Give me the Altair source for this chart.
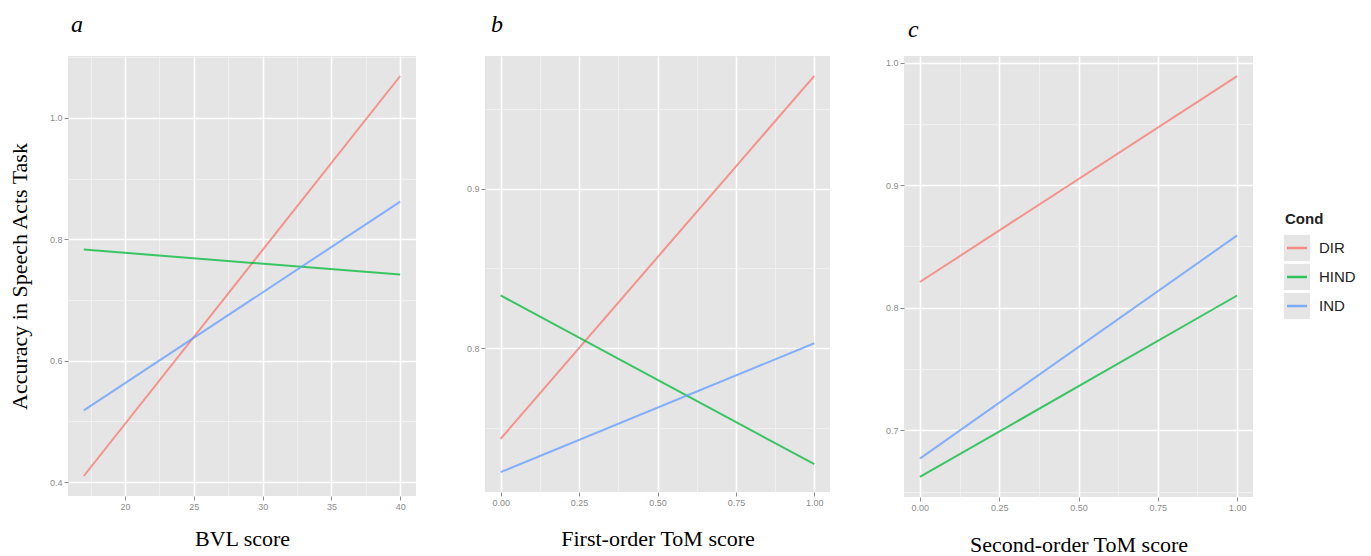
import json
import altair as alt
import pandas as pd

# ---------------- data ----------------
conds = ["DIR", "HIND", "IND"]
cond_colors = ["#F8766D", "#00BA38", "#619CFF"]
legend_title = "Cond"

# panel a : BVL score
a_x = [17, 40]
a_dir = [0.410, 1.069]
a_hind = [0.783, 0.742]
a_ind = [0.518, 0.862]
a_x_major = [20, 25, 30, 35, 40]
a_x_minor = [17.5, 22.5, 27.5, 32.5, 37.5]
a_y_major = [0.4, 0.6, 0.8, 1.0]
a_y_minor = [0.5, 0.7, 0.9, 1.1]

# panel b : First-order ToM score
b_x = [0, 1]
b_dir = [0.743, 0.971]
b_hind = [0.833, 0.727]
b_ind = [0.722, 0.803]
b_x_major = [0.0, 0.25, 0.5, 0.75, 1.0]
b_x_minor = [0.125, 0.375, 0.625, 0.875]
b_y_major = [0.8, 0.9]
b_y_minor = [0.75, 0.85, 0.95]

# panel c : Second-order ToM score
c_x = [0, 1]
c_dir = [0.821, 0.989]
c_hind = [0.662, 0.810]
c_ind = [0.677, 0.859]
c_x_major = [0.0, 0.25, 0.5, 0.75, 1.0]
c_x_minor = [0.125, 0.375, 0.625, 0.875]
c_y_major = [0.7, 0.8, 0.9, 1.0]
c_y_minor = [0.65, 0.75, 0.85, 0.95]

y_title = "Accuracy in Speech Acts Task"
x_titles = ["BVL score", "First-order ToM score", "Second-order ToM score"]
letters = ["a", "b", "c"]

SERIF = "Liberation Serif"
SANS = "Liberation Sans"
TICK_GREY = "#8c8c8c"
PANEL_BG = "#E5E5E5"


def long_df(xs, d, h, i):
    rows = []
    for name, ys in zip(conds, [d, h, i]):
        for xv, yv in zip(xs, ys):
            rows.append({"x": xv, "y": yv, "Cond": name})
    return pd.DataFrame(rows)


def expand(vals, f=0.05):
    lo, hi = min(vals), max(vals)
    d = (hi - lo) * f
    return [lo - d, hi + d]


def make_axis(major, minor, fmt, title, title_font_size, title_padding, **kw):
    minor_test = f"indexof({json.dumps(major)}, datum.value) < 0"
    return alt.Axis(
        values=sorted(major + minor),
        format=fmt,
        labelExpr=f"{minor_test} ? '' : datum.label",
        gridColor={"condition": {"test": minor_test, "value": "#F2F2F2"}, "value": "#FFFFFF"},
        gridWidth={"condition": {"test": minor_test, "value": 0.8}, "value": 1.6},
        tickOpacity={"condition": {"test": minor_test, "value": 0}, "value": 1},
        tickColor=TICK_GREY,
        tickSize=4,
        labelColor=TICK_GREY,
        labelFont=SANS,
        labelFontSize=9,
        labelPadding=2,
        domain=False,
        title=title,
        titleFont=SERIF,
        titleFontSize=title_font_size,
        titleFontWeight="normal",
        titleColor="#000000",
        titlePadding=title_padding,
        minExtent=0,
        **kw,
    )


def panel(xs, d, h, i, xmaj, xmin, ymaj, ymin, xfmt, yfmt, letter, xtitle,
          ytitle, ytfs, ytpad, xtpad, w, hgt, toff, tdx):
    df = long_df(xs, d, h, i)
    xdom = expand(xs)
    ydom = expand(d + h + i)
    return alt.Chart(df).mark_line(strokeWidth=2, opacity=0.75, clip=True).encode(
        x=alt.X("x:Q", scale=alt.Scale(domain=xdom, nice=False, zero=False),
                axis=make_axis(xmaj, xmin, xfmt, xtitle, 22, xtpad)),
        y=alt.Y("y:Q", scale=alt.Scale(domain=ydom, nice=False, zero=False),
                axis=make_axis(ymaj, ymin, yfmt, ytitle, ytfs, ytpad)),
        color=alt.Color("Cond:N", scale=alt.Scale(domain=conds, range=cond_colors), legend=None),
    ).properties(
        width=w,
        height=hgt,
        view=alt.ViewBackground(fill=PANEL_BG, strokeWidth=0),
        title=alt.TitleParams(text=letter, anchor="start", frame="group", font=SERIF,
                              fontStyle="italic", fontWeight="normal", fontSize=24,
                              color="#000000", offset=toff, dx=tdx),
    )


pa = panel(a_x, a_dir, a_hind, a_ind, a_x_major, a_x_minor, a_y_major, a_y_minor,
           "d", ".1f", letters[0], x_titles[0], y_title, 22, 18, 17, 348, 440, 19, 3)
pb = panel(b_x, b_dir, b_hind, b_ind, b_x_major, b_x_minor, b_y_major, b_y_minor,
           ".2f", ".1f", letters[1], x_titles[1], " ", 10, 10, 21, 345, 436, 19, 6)
pc = panel(c_x, c_dir, c_hind, c_ind, c_x_major, c_x_minor, c_y_major, c_y_minor,
           ".2f", ".1f", letters[2], x_titles[2], " ", 10, 15, 22, 349, 441, 14, 4)

# ---------------- legend panel ----------------
leg_df = pd.DataFrame({"Cond": conds})
leg_y = alt.Y("Cond:N", scale=alt.Scale(domain=conds, range=[177.5, 264.5]), axis=None)
leg_color = alt.Color("Cond:N", scale=alt.Scale(domain=conds, range=cond_colors), legend=None)

keys = alt.Chart(leg_df).mark_square(size=690, color=PANEL_BG, opacity=1).encode(
    x=alt.value(13), y=leg_y)
key_lines = alt.Chart(leg_df).mark_rule(strokeWidth=2.5, opacity=0.8).encode(
    x=alt.value(3), x2=alt.value(23), y=leg_y, color=leg_color)
key_text = alt.Chart(leg_df).mark_text(align="left", baseline="middle", font=SANS,
                                       fontSize=15, color="#222222").encode(
    x=alt.value(35), y=leg_y, text="Cond:N")
leg_title = alt.Chart(pd.DataFrame({"t": [legend_title]})).mark_text(
    align="left", baseline="middle", font=SANS, fontSize=15, fontWeight="bold",
    color="#222222").encode(x=alt.value(1), y=alt.value(163), text="t:N")

legend_panel = alt.layer(keys, key_lines, key_text, leg_title).properties(width=70, height=320)

chart = alt.hconcat(pa, pb, pc, legend_panel, spacing=30).properties(
    padding={"left": 0, "top": 5, "right": 5, "bottom": 0}
).configure_view(strokeWidth=0)

chart.save("out.html", embed_options={"renderer": "svg", "actions": False})
